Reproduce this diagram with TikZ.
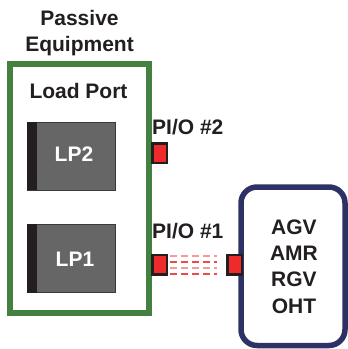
\documentclass[tikz,border=0pt]{standalone}
\usepackage{fontspec}
\setmainfont{Liberation Sans}
\begin{document}
\begin{tikzpicture}[x=1pt,y=-1pt,
  txt/.style={font=\bfseries\fontsize{21}{26.3}\selectfont, text=textdark, inner sep=0pt, align=center},
  lpbox/.style={fill=lpgray, draw=lpedge, line width=0.8pt, minimum width=88pt, minimum height=68pt, inner sep=0pt},
  pio/.style={fill=pioRed, draw=textdark, line width=2.5pt, minimum width=14.5pt, minimum height=19.5pt, inner sep=0pt},
  sig/.style={line width=1.7pt, dash pattern=on 7pt off 4pt}
]
\definecolor{textdark}{HTML}{231F20}
\definecolor{eqgreen}{HTML}{44803F}
\definecolor{lpgray}{HTML}{666666}
\definecolor{lpedge}{HTML}{3A3A3A}
\definecolor{pioRed}{HTML}{EE2A2A}
\definecolor{navy}{HTML}{2E3166}
\definecolor{sigA}{HTML}{EE4A4A}
\definecolor{sigB}{HTML}{F49A9A}
\useasboundingbox (0,0) rectangle (348,349);
% titles
\node[txt] (title) at (79.5,33) {Passive\\Equipment};
% green equipment box
\draw[eqgreen, line width=5.5pt] (10,64) rectangle (149,313);
\node[txt] (lpt) at (78.5,91) {Load Port};
% load ports
\node[lpbox] (lp2) at (71,156) {};
\fill[textdark] (lp2.north west) rectangle ([xshift=10pt]lp2.south west);
\node[txt, text=white] (lp2t) at (74,154.5) {LP2};
\node[lpbox] (lp1) at (71,258.5) {};
\fill[textdark] (lp1.north west) rectangle ([xshift=10pt]lp1.south west);
\node[txt, text=white] (lp1t) at (75,259.5) {LP1};
% PIO ports
\node[pio] (pio2) at (159.5,153) {};
\node[txt, anchor=west] (pio2t) at (152,127) {PI/O \#2};
\node[pio] (pio1) at (159.5,264.5) {};
\node[txt, anchor=west] (pio1t) at (152,231.5) {PI/O \#1};
% vehicle box
\draw[navy, line width=5.5pt, rounded corners=16pt] (241,187) rectangle (345,345.5);
\node[pio] (pio3) at (234.5,264.5) {};
\node[txt] (veh) at (294,266.5) {AGV\\AMR\\RGV\\OHT};
% signal lines
\draw[sig, sigA] ([yshift=-9.2pt,xshift=2pt]pio1.east) -- ([yshift=-9.2pt,xshift=-9pt]pio3.west);
\draw[sig, sigB] ([yshift=-3.2pt,xshift=2pt]pio1.east) -- ([yshift=-3.2pt,xshift=-9pt]pio3.west);
\draw[sig, sigA] ([yshift=2.5pt,xshift=2pt]pio1.east) -- ([yshift=2.5pt,xshift=-9pt]pio3.west);
\draw[sig, sigB] ([yshift=8.2pt,xshift=2pt]pio1.east) -- ([yshift=8.2pt,xshift=-9pt]pio3.west);
\end{tikzpicture}
\end{document}
